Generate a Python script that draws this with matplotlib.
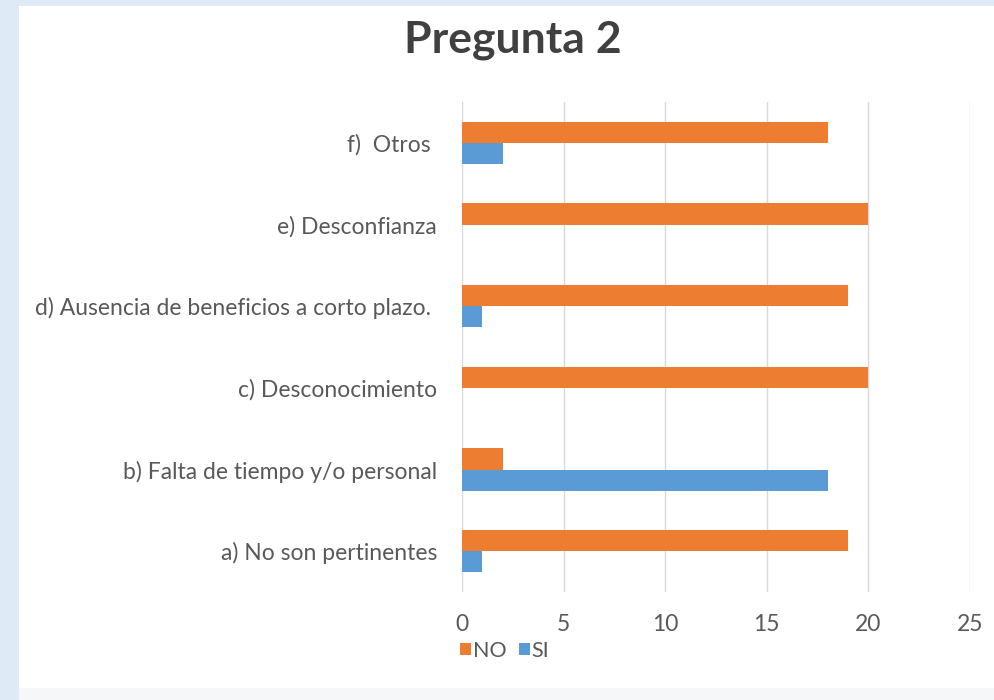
import matplotlib
matplotlib.use("Agg")
import matplotlib.pyplot as plt
from matplotlib.patches import Rectangle, Patch
import numpy as np

categories = ["a) No son pertinentes", "b) Falta de tiempo y/o personal",
              "c) Desconocimiento", "d) Ausencia de beneficios a corto plazo. ",
              "e) Desconfianza", "f)  Otros "]
no_values = [19, 2, 20, 19, 20, 18]
si_values = [1, 18, 0, 1, 0, 2]
series_names = ["NO", "SI"]
xticks = [0, 5, 10, 15, 20, 25]

ORANGE = "#ED7D31"
BLUE = "#5B9BD5"
TXT = "#595959"

plt.rcParams['font.family'] = ['Lato', 'DejaVu Sans']

fig = plt.figure(figsize=(9.95, 7.0), dpi=100, facecolor="#DEEAF6")
fig.patches.append(Rectangle((19/995, 0), 1 - 19/995, 1 - 6/700, transform=fig.transFigure,
                             facecolor="white", edgecolor="none", zorder=-20))
fig.patches.append(Rectangle((19/995, 0), 1 - 19/995, 12/700, transform=fig.transFigure,
                             facecolor="#F6F7F9", edgecolor="none", zorder=-19))

ax = fig.add_axes([462/995, 1 - 592/700, (970 - 462)/995, (592 - 102)/700])
ax.set_zorder(5)
ax.set_facecolor("none")
y = np.arange(len(categories))
h = 0.26
ax.barh(y + h/2, no_values, height=h, color=ORANGE, label=series_names[0], zorder=3)
ax.barh(y - h/2, si_values, height=h, color=BLUE, label=series_names[1], zorder=3)

ax.set_xlim(0, 25)
ax.set_ylim(-0.5, len(categories) - 0.5)
ax.set_xticks(xticks)
ax.set_yticks(y)
ax.set_yticklabels(categories)
ax.grid(axis="x", color="#D9D9D9", linewidth=1.0, zorder=0)
ax.set_axisbelow(True)
for s in ax.spines.values():
    s.set_visible(False)
ax.tick_params(axis="both", length=0, labelsize=16.5, labelcolor=TXT)
ax.tick_params(axis="y", pad=18)
ax.tick_params(axis="x", pad=16)

fig.text(0.515, 1 - 40/700, "Pregunta 2", ha="center", va="center",
         fontsize=32, fontweight="bold", color="#404040")

handles = [Patch(facecolor=ORANGE, edgecolor="none"), Patch(facecolor=BLUE, edgecolor="none")]
fig.legend(handles, series_names, loc="center", bbox_to_anchor=(505/995, 1 - 651/700),
           ncol=2, frameon=False, fontsize=15.5, labelcolor=TXT,
           handlelength=0.5, handleheight=0.5, handletextpad=0.1, columnspacing=0.55)

fig.savefig("out.png", dpi=100, facecolor=fig.get_facecolor())
